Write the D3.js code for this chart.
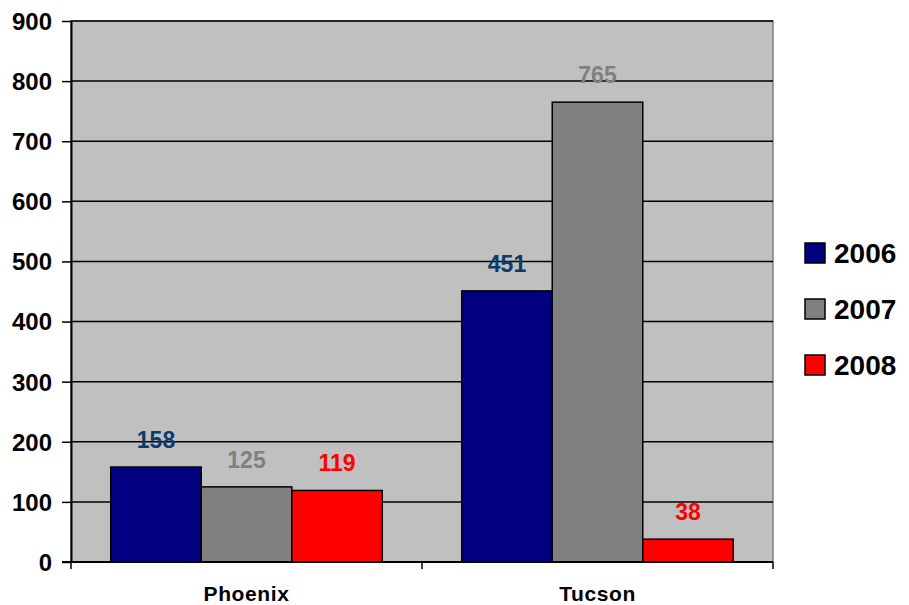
<!DOCTYPE html>
<html><head><meta charset="utf-8">
<script src="https://cdn.jsdelivr.net/npm/d3@7"></script>
<style>body{margin:0;background:#fff}svg{display:block}text{font-family:"Liberation Sans",Arial,sans-serif;font-weight:bold}</style>
</head><body><svg id="c" width="909" height="605"></svg>
<script>
const categories = ["Phoenix", "Tucson"];
const seriesNames = ["2006", "2007", "2008"];
const values2006 = [158, 451];
const values2007 = [125, 765];
const values2008 = [119, 38];
const yTicks = [0, 100, 200, 300, 400, 500, 600, 700, 800, 900];
const colors = ["#000080", "#808080", "#ff0000"];
const labelColors = ["#0b3c70", "#808080", "#ff0000"];

const seriesValues = [values2006, values2007, values2008];
const svg = d3.select("#c");
const L = 71, R = 773, T = 21, B = 562;
const y = d3.scaleLinear().domain([0, 900]).range([B, T]);
const x0 = d3.scaleBand().domain(categories).range([L, R]).paddingInner(0).paddingOuter(0);
const x1 = d3.scaleBand().domain(seriesNames).range([0, x0.bandwidth()]).paddingInner(0).paddingOuter(0.439);

svg.append("rect").attr("x", L).attr("y", T).attr("width", R - L).attr("height", B - T)
  .attr("fill", "#c0c0c0").attr("stroke", "#808080").attr("stroke-width", 1.5);

// gridlines
svg.append("g").selectAll("line").data(yTicks.filter(d => d > 0)).join("line")
  .attr("x1", L).attr("x2", R).attr("y1", d => y(d)).attr("y2", d => y(d))
  .attr("stroke", "#000").attr("stroke-width", 1.5);

// bars
const groups = svg.append("g").selectAll("g").data(categories).join("g")
  .attr("transform", c => `translate(${x0(c)},0)`);
groups.each(function(c, ci) {
  const g = d3.select(this);
  seriesNames.forEach((s, si) => {
    const v = seriesValues[si][ci];
    g.append("rect").attr("x", x1(s)).attr("y", y(v)).attr("width", x1.bandwidth()).attr("height", y(0) - y(v))
      .attr("fill", colors[si]).attr("stroke", "#000").attr("stroke-width", 1.5);
  });
  seriesNames.forEach((s, si) => {
    const v = seriesValues[si][ci];
    g.append("text").attr("x", x1(s) + x1.bandwidth() / 2).attr("y", y(v) - 19)
      .attr("text-anchor", "middle").attr("font-size", 23).attr("fill", labelColors[si]).text(v);
  });
});

// y axis
const yAxis = d3.axisLeft(y).tickValues(yTicks).tickSize(9).tickPadding(10).tickSizeOuter(0);
const ya = svg.append("g").attr("transform", `translate(${L},0)`).call(yAxis);
ya.select(".domain").attr("stroke", "#000").attr("stroke-width", 2);
ya.selectAll(".tick line").attr("stroke", "#000").attr("stroke-width", 1.5);
ya.selectAll(".tick text").attr("font-size", 24).attr("fill", "#000").attr("dy", "0.35em")
  .style("font-family", '"Liberation Sans",Arial,sans-serif').style("font-weight", "bold");

// x axis
svg.append("line").attr("x1", L - 9).attr("x2", R).attr("y1", B).attr("y2", B).attr("stroke", "#000").attr("stroke-width", 2);
const bounds = [L, ...categories.map(c => x0(c) + x0.bandwidth())];
svg.append("g").selectAll("line").data(bounds).join("line")
  .attr("x1", d => d).attr("x2", d => d).attr("y1", B).attr("y2", B + 7)
  .attr("stroke", "#000").attr("stroke-width", 1.5);
svg.append("g").selectAll("text").data(categories).join("text")
  .attr("x", c => x0(c) + x0.bandwidth() / 2).attr("y", 601)
  .attr("text-anchor", "middle").attr("font-size", 21).attr("letter-spacing", 0.6).attr("fill", "#000").text(c => c);

// legend
const lg = svg.append("g").selectAll("g").data(seriesNames).join("g")
  .attr("transform", (d, i) => `translate(805,${243 + i * 56})`);
lg.append("rect").attr("width", 20).attr("height", 20).attr("fill", (d, i) => colors[i]).attr("stroke", "#000").attr("stroke-width", 1.5);
lg.append("text").attr("x", 29).attr("y", 20).attr("font-size", 28).attr("fill", "#000").text(d => d);
</script></body></html>
